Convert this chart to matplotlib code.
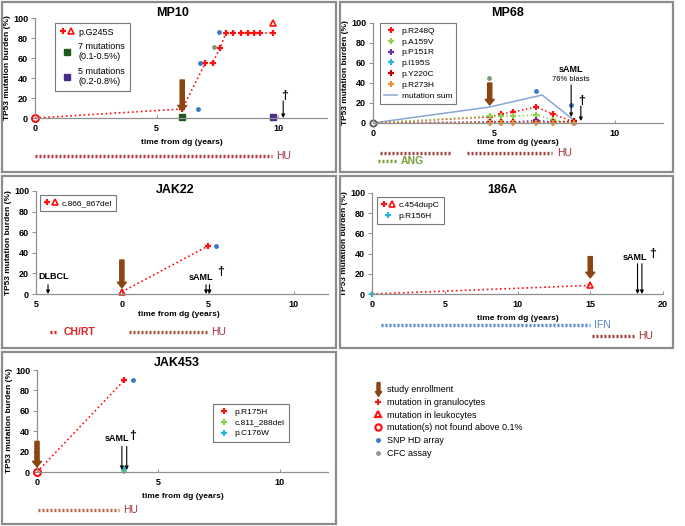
import matplotlib
matplotlib.use('Agg')
import matplotlib.pyplot as plt
from matplotlib.lines import Line2D
from matplotlib.patches import Rectangle
from matplotlib.legend_handler import HandlerTuple

plt.rcParams['font.family'] = ['Liberation Sans', 'DejaVu Sans']

# --- datos ---
# MP10
mp10_gran_t = [0, 6.05, 7.0, 7.3, 7.6, 7.85, 8.15, 8.45, 8.75, 9.0, 9.25, 9.8]
mp10_gran_v = [0, 9, 55, 55, 70, 85, 85, 85, 85, 85, 85, 85]
mp10_leuk_t = [9.8]
mp10_leuk_v = [95]
mp10_snp_t = [6.7, 6.8, 7.55]
mp10_snp_v = [9, 55, 86]
mp10_cfc_t = [7.35]
mp10_cfc_v = [71]
mp10_m7_t, mp10_m7_v = [6.05], [1]
mp10_m5_t, mp10_m5_v = [9.78], [1]
mp10_enroll = 6.05
mp10_death = 10.2
mp10_hu = (0.0, 9.75)

# MP68
mp68_t = [0, 4.83, 5.3, 5.8, 6.75, 7.45, 8.3]
mp68_series = ['p.R248Q', 'p.A159V', 'p.P151R', 'p.I195S', 'p.Y220C', 'p.R273H']
mp68_vals = [
    [0, 6, 9, 11, 16, 9, 1],
    [0, 7, 7, 7, 8, 3, 0],
    [0, 1, 1, 1, 2.5, 1, 0],
    [0, 0.5, 0.5, 0.5, 0.5, 0.5, 0],
    [0, 0.5, 0.5, 0.5, 0.5, 0.5, 2],
    [0, 0, 0, 0, 0, 0, 0],
]
mp68_colors = ['#ff1010', '#92d050', '#7030a0', '#2ab4dc', '#c00000', '#f09030']
mp68_sum_t = [0, 4.83, 7.0, 8.3]
mp68_sum_v = [0, 16, 28, 3]
mp68_snp_t, mp68_snp_v = [6.75, 8.2], [32, 18]
mp68_cfc_t, mp68_cfc_v = [4.8], [45]
mp68_enroll = 4.83
mp68_saml = 8.2
mp68_death = 8.6
mp68_hu = [(0.3, 3.2), (3.9, 7.4)]
mp68_ang = (0.2, 1.0)

# JAK22
jak22_t = [0, 5.0]
jak22_v = [2, 46.5]
jak22_snp_t, jak22_snp_v = [5.5], [47]
jak22_enroll = 0
jak22_dlbcl = -4.3
jak22_saml = [4.9, 5.1]
jak22_chrt = (-4.2, -3.7)
jak22_hu = (0.4, 5.05)

# 186A
a186_t = [0, 15]
a186_v = [0, 8.5]
a186_enroll = 15
a186_saml = [18.25, 18.55]
a186_ifn = (0.6, 15.0)
a186_hu = (15.1, 18.0)

# JAK453
jak453_t = [0, 3.6]
jak453_v = [0, 90]
jak453_snp_t, jak453_snp_v = [3.94], [90]
jak453_del_t, jak453_del_v = [3.6], [1]
jak453_c176_t, jak453_c176_v = [3.6], [3]
jak453_enroll = 0
jak453_saml = [3.5, 3.7]
jak453_hu = (0.05, 3.4)

RED = '#ff1010'
BLUE = '#3a78c8'
CFC = '#7a9a7a'
BROWN = '#8b4513'
HUTXT = '#a3303a'

W, H = 685, 526
fig = plt.figure(figsize=(6.85, 5.26), dpi=100)


def px_axes(x0, x1, ytop, ybot):
    return fig.add_axes([x0 / W, 1 - ybot / H, (x1 - x0) / W, (ybot - ytop) / H])


def frame(x0, y0, x1, y1):
    fig.patches.append(Rectangle((x0 / W, 1 - y1 / H), (x1 - x0) / W, (y1 - y0) / H,
                                 transform=fig.transFigure, fill=False,
                                 edgecolor='#8c8c8c', lw=1.6))


def ftext(x, y, s, **kw):
    fig.text(x / W, 1 - y / H, s, **kw)


def style(ax, xlim, xticks, xlabels):
    ax.set_xlim(xlim)
    ax.set_ylim(0, 100)
    ax.set_yticks(range(0, 101, 20))
    ax.set_xticks(xticks)
    ax.set_xticklabels(xlabels)
    for s in ['top', 'right']:
        ax.spines[s].set_visible(False)
    for s in ['left', 'bottom']:
        ax.spines[s].set_color('#909090')
        ax.spines[s].set_linewidth(0.9)
    ax.tick_params(axis='y', labelsize=6.5, length=3, width=0.7, color='#909090', pad=2)
    ax.tick_params(axis='x', labelsize=6.5, length=2, width=0.7, color='#909090',
                   direction='in', pad=4)
    for lab in ax.get_xticklabels() + ax.get_yticklabels():
        lab.set_fontweight('bold')
    ax.set_ylabel('TP53 mutation burden (%)', fontsize=6, fontweight='bold', labelpad=1.5)
    ax.patch.set_alpha(0)


def treat(ax, span, yfrac, color, label, tcolor, dx=0.15, weight='normal'):
    tr = ax.get_xaxis_transform()
    ax.plot(span, [yfrac, yfrac], transform=tr, color=color, lw=2.4,
            linestyle=(0, (0.6, 0.6)), clip_on=False, solid_capstyle='butt')
    if label:
        ax.text(span[1] + dx, yfrac, label, transform=tr, color=tcolor, fontsize=7.5,
                va='center', ha='left', fontweight=weight)


def enroll(ax, x, y0, y1):
    ax.annotate('', xy=(x, y1), xytext=(x, y0),
                arrowprops=dict(color=BROWN, width=3, headwidth=6.5, headlength=4, shrink=0),
                annotation_clip=False)


def karrow(ax, x, y0, y1):
    ax.annotate('', xy=(x, y1), xytext=(x, y0),
                arrowprops=dict(arrowstyle='-|>', color='black', lw=0.8,
                                mutation_scale=5, shrinkA=0, shrinkB=0),
                annotation_clip=False)


def gran(color, ms=5):
    return dict(marker='+', color=color, markersize=ms, markeredgewidth=1.6)


def plus_tri_handle():
    return (Line2D([], [], marker='+', color=RED, ls='none', ms=5, mew=1.6),
            Line2D([], [], marker='^', mfc='none', mec=RED, ls='none', ms=5, mew=1.2))


def panel_legend(ax, handles, labels, anchor, fs=6, spacing=0.35):
    leg = ax.legend(handles, labels, loc='upper left', bbox_to_anchor=anchor,
                    fontsize=fs, frameon=True, fancybox=False, borderaxespad=0,
                    handler_map={tuple: HandlerTuple(ndivide=None, pad=0.2)},
                    handlelength=1.6, handletextpad=0.5, labelspacing=spacing,
                    borderpad=0.5)
    leg.get_frame().set_edgecolor('#555555')
    leg.get_frame().set_linewidth(0.8)
    return leg


# frames of the panels
frame(2, 2, 336, 172)
frame(340, 2, 673, 172)
frame(2, 176, 336, 348)
frame(340, 176, 673, 348)
frame(2, 352, 336, 524)

# ---------------- MP10 ----------------
ax = px_axes(35, 327, 18, 118)
style(ax, (0, 12), [0, 5, 10], ['0', '5', '10'])
ax.plot(mp10_gran_t, mp10_gran_v, ls=':', lw=1.2, color=RED, clip_on=False)
ax.plot(mp10_gran_t[1:], mp10_gran_v[1:], ls='none', **gran(RED))
ax.plot(mp10_gran_t[:1], mp10_gran_v[:1], 'o', mfc='none', mec=RED, mew=1.5, ms=5, clip_on=False)
ax.plot(mp10_leuk_t, mp10_leuk_v, '^', mfc='none', mec=RED, mew=1.2, ms=5)
ax.plot(mp10_snp_t, mp10_snp_v, 'o', color=BLUE, ms=3.5, mec='none')
ax.plot(mp10_cfc_t, mp10_cfc_v, 'o', color=CFC, ms=3.5, mec='none')
ax.plot(mp10_m7_t, mp10_m7_v, 's', color='#1e5a1e', ms=4, clip_on=False)
ax.plot(mp10_m5_t, mp10_m5_v, 's', color='#4b2c8c', ms=4, clip_on=False)
enroll(ax, mp10_enroll, 38, 7)
karrow(ax, mp10_death, 17, 0)
ax.text(mp10_death + 0.05, 22, '†', fontsize=9, fontweight='bold', ha='center', va='center')
treat(ax, mp10_hu, -0.38, '#b8353f', 'HU', HUTXT)
panel_legend(ax,
             [plus_tri_handle(),
              Line2D([], [], marker='s', color='#1e5a1e', ls='none', ms=4),
              Line2D([], [], marker='s', color='#4b2c8c', ls='none', ms=4)],
             ['p.G245S', '7 mutations\n(0.1-0.5%)', '5 mutations\n(0.2-0.8%)'],
             (0.068, 0.95), fs=6.5, spacing=0.6)
ftext(173, 13, 'MP10', fontsize=9, fontweight='bold', ha='center', va='center')
ftext(182, 142, 'time from dg (years)', fontsize=6, fontweight='bold', ha='center', va='center')

# ---------------- MP68 ----------------
ax = px_axes(373, 663, 23, 123)
style(ax, (0, 12), [0, 5, 10], ['0', '5', '10'])
ax.plot(mp68_sum_t, mp68_sum_v, color='#8aa6d6', lw=1.1)
for name, vals, col in zip(mp68_series, mp68_vals, mp68_colors):
    ax.plot(mp68_t, vals, ls=':', lw=1.1, color=col, clip_on=False)
    ax.plot(mp68_t[1:], vals[1:], ls='none', clip_on=False, **gran(col, 4.5))
ax.plot([0], [0], 'o', mfc='white', mec='#555555', mew=1.3, ms=4.5, clip_on=False)
ax.plot(mp68_snp_t, mp68_snp_v, 'o', color=BLUE, ms=3.5, mec='none')
ax.plot(mp68_cfc_t, mp68_cfc_v, 'o', color=CFC, ms=3.5, mec='none')
enroll(ax, mp68_enroll, 40, 18)
karrow(ax, mp68_saml, 38, 6)
karrow(ax, mp68_death, 17, 2)
ax.text(mp68_death + 0.05, 22, '†', fontsize=9, fontweight='bold', ha='center', va='center')
ax.text(mp68_saml, 53, 'sAML', fontsize=6.5, fontweight='bold', ha='center', va='center')
ax.text(mp68_saml, 43, '76% blasts', fontsize=5.5, ha='center', va='center')
for seg in mp68_hu:
    treat(ax, seg, -0.30, '#a33a3a', None, HUTXT)
tr = ax.get_xaxis_transform()
ax.text(mp68_hu[1][1] + 0.2, -0.30, 'HU', transform=tr, color=HUTXT, fontsize=7.5,
        va='center')
treat(ax, mp68_ang, -0.38, '#77a03a', 'ANG', '#77a03a', weight='bold')
panel_legend(ax,
             [Line2D([], [], ls='none', **gran(c, 4.5)) for c in mp68_colors]
             + [Line2D([], [], color='#8aa6d6', lw=1.1)],
             mp68_series + ['mutation sum'], (0.024, 1.0))
ftext(508, 13, 'MP68', fontsize=9, fontweight='bold', ha='center', va='center')
ftext(518, 143, 'time from dg (years)', fontsize=6, fontweight='bold', ha='center', va='center')

# ---------------- JAK22 ----------------
ax = px_axes(36, 328, 191, 294)
style(ax, (-5, 12), [-5, 0, 5, 10], ['5', '0', '5', '10'])
ax.plot(jak22_t, jak22_v, ls=':', lw=1.2, color=RED)
ax.plot(jak22_t[:1], jak22_v[:1], '^', mfc='none', mec=RED, mew=1.2, ms=5, clip_on=False)
ax.plot(jak22_t[1:], jak22_v[1:], ls='none', **gran(RED))
ax.plot(jak22_snp_t, jak22_snp_v, 'o', color=BLUE, ms=3.5, mec='none')
enroll(ax, jak22_enroll, 33, 6)
karrow(ax, jak22_dlbcl, 9, 0)
ax.text(jak22_dlbcl + 0.3, 17, 'DLBCL', fontsize=6.5, fontweight='bold', ha='center', va='center')
for x in jak22_saml:
    karrow(ax, x, 9, 0)
ax.text(4.6, 16, 'sAML', fontsize=6.5, fontweight='bold', ha='center', va='center')
ax.text(5.75, 21, '†', fontsize=9, fontweight='bold', ha='center', va='center')
treat(ax, jak22_chrt, -0.37, '#e02020', 'CH/RT', '#e02020', dx=0.3, weight='bold')
treat(ax, jak22_hu, -0.37, '#a0522d', 'HU', HUTXT)
panel_legend(ax, [plus_tri_handle()], ['c.866_867del'], (0.014, 0.96))
ftext(175, 190, 'JAK22', fontsize=9, fontweight='bold', ha='center', va='center')
ftext(179, 315, 'time from dg (years)', fontsize=6, fontweight='bold', ha='center', va='center')

# ---------------- 186A ----------------
ax = px_axes(372, 663, 193, 294)
style(ax, (0, 20), [0, 5, 10, 15, 20], ['0', '5', '10', '15', '20'])
ax.plot(a186_t, a186_v, ls=':', lw=1.2, color=RED)
ax.plot(a186_t[:1], a186_v[:1], ls='none', clip_on=False, **gran('#2ab4dc'))
ax.plot(a186_t[1:], a186_v[1:], '^', mfc='none', mec=RED, mew=1.2, ms=5)
enroll(ax, a186_enroll, 37, 16)
for x in a186_saml:
    karrow(ax, x, 30, 0)
ax.text(18.1, 36.5, 'sAML', fontsize=6.5, fontweight='bold', ha='center', va='center')
ax.text(19.3, 40, '†', fontsize=9, fontweight='bold', ha='center', va='center')
treat(ax, a186_ifn, -0.31, '#4a86c8', 'IFN', '#4a86c8', dx=0.25)
treat(ax, a186_hu, -0.42, '#a33a3a', 'HU', HUTXT, dx=0.3)
panel_legend(ax, [plus_tri_handle(), Line2D([], [], ls='none', **gran('#2ab4dc'))],
             ['c.454dupC', 'p.R156H'], (0.017, 0.96))
ftext(502, 190, '186A', fontsize=9, fontweight='bold', ha='center', va='center')
ftext(518, 318, 'time from dg (years)', fontsize=6, fontweight='bold', ha='center', va='center')

# ---------------- JAK453 ----------------
ax = px_axes(37, 328, 370, 472)
style(ax, (0, 12), [0, 5, 10], ['0', '5', '10'])
ax.plot(jak453_t, jak453_v, ls=':', lw=1.2, color=RED)
ax.plot(jak453_t[1:], jak453_v[1:], ls='none', **gran(RED))
ax.plot(jak453_snp_t, jak453_snp_v, 'o', color=BLUE, ms=3.5, mec='none')
ax.plot(jak453_del_t, jak453_del_v, ls='none', clip_on=False, **gran('#92d050'))
ax.plot(jak453_c176_t, jak453_c176_v, ls='none', clip_on=False, **gran('#2ab4dc'))
enroll(ax, jak453_enroll, 30, 5)
ax.plot(jak453_t[:1], jak453_v[:1], 'o', mfc='none', mec=RED, mew=1.5, ms=5, clip_on=False)
for x in jak453_saml:
    karrow(ax, x, 25, 2)
ax.text(3.3, 33, 'sAML', fontsize=6.5, fontweight='bold', ha='center', va='center')
ax.text(3.95, 35, '†', fontsize=9, fontweight='bold', ha='center', va='center')
treat(ax, jak453_hu, -0.37, '#c0603a', 'HU', HUTXT)
panel_legend(ax, [Line2D([], [], ls='none', **gran(c, 4.5)) for c in [RED, '#92d050', '#2ab4dc']],
             ['p.R175H', 'c.811_288del', 'p.C176W'], (0.605, 0.667))
ftext(177, 363, 'JAK453', fontsize=9, fontweight='bold', ha='center', va='center')
ftext(183, 496, 'time from dg (years)', fontsize=6, fontweight='bold', ha='center', va='center')

# ---------------- leyenda general ----------------
arrow_marker = [(-0.22, 1), (0.22, 1), (0.22, -0.3), (0.45, -0.3), (0, -1),
                (-0.45, -0.3), (-0.22, -0.3), (-0.22, 1)]
handles = [
    Line2D([], [], marker=arrow_marker, color=BROWN, ls='none', ms=10),
    Line2D([], [], marker='+', color=RED, ls='none', ms=4.5, mew=1.5),
    Line2D([], [], marker='^', color=RED, mfc='none', ls='none', ms=4.5, mew=1.5),
    Line2D([], [], marker='o', color=RED, mfc='none', ls='none', ms=4.5, mew=1.6),
    Line2D([], [], marker='o', color=BLUE, ls='none', ms=3.5, mec='none'),
    Line2D([], [], marker='o', color='#8a9a8a', ls='none', ms=3.5, mec='none'),
]
labels = ['study enrollment', 'mutation in granulocytes', 'mutation in leukocytes',
          'mutation(s) not found above 0.1%', 'SNP HD array', 'CFC assay']
fig.legend(handles, labels, loc='upper left', bbox_to_anchor=(374 / W, 1 - 385 / H),
           frameon=False, fontsize=6.5, handlelength=0.8, handletextpad=0.6,
           labelspacing=0.42, borderaxespad=0, borderpad=0)

fig.savefig('out.png', dpi=100)
